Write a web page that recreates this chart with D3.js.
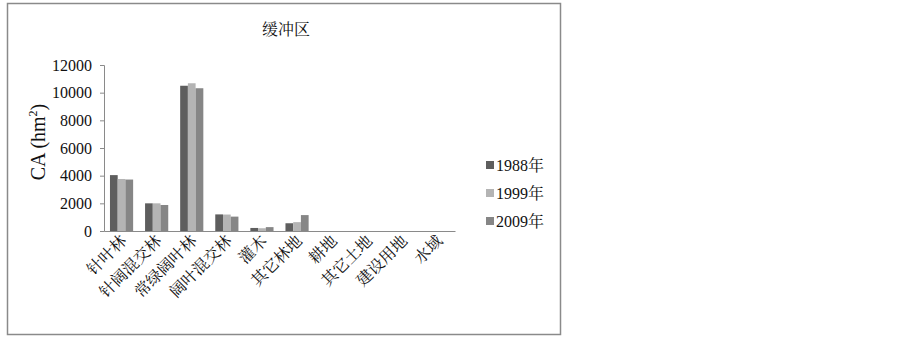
<!DOCTYPE html>
<html>
<head>
<meta charset="utf-8">
<script src="https://cdn.jsdelivr.net/npm/d3@7"></script>
<style>
  body { margin: 0; background: #fff; }
  text { font-family: "Liberation Serif", "Noto Serif CJK SC", "Noto Sans CJK SC", serif; fill: #111; }
</style>
</head>
<body>
<svg id="chart" width="903" height="339"></svg>
<script>
"use strict";

// data
const categories = ["针叶林", "针阔混交林", "常绿阔叶林", "阔叶混交林", "灌木", "其它林地", "耕地", "其它土地", "建设用地", "水域"];
const years = ["1988年", "1999年", "2009年"];
const ca1988 = [4040, 2000, 10500, 1200, 220, 560, 0, 0, 0, 0];
const ca1999 = [3760, 2000, 10680, 1190, 200, 640, 0, 0, 0, 0];
const ca2009 = [3720, 1880, 10320, 1040, 280, 1150, 0, 0, 0, 0];
const yTicks = [0, 2000, 4000, 6000, 8000, 10000, 12000];
const colors = ["#5e5e5e", "#b4b4b4", "#868686"];

const series = [ca1988, ca1999, ca2009];

const svg = d3.select("#chart");

// outer frame
svg.append("rect")
    .attr("x", 7.5).attr("y", 3.5)
    .attr("width", 553).attr("height", 331)
    .attr("fill", "none")
    .attr("stroke", "#8a8a8a")
    .attr("stroke-width", 1.5);

svg.append("text")
    .attr("x", 286).attr("y", 35)
    .attr("text-anchor", "middle")
    .style("font-size", "16px")
    .text("缓冲区");

const plotLeft = 104, plotRight = 455, plotTop = 65, plotBottom = 231;

var x = d3.scaleBand()
    .domain(categories)
    .range([plotLeft, plotRight])
    .paddingInner(0.34)
    .paddingOuter(0.17);

var xs = d3.scaleBand()
    .domain(d3.range(3))
    .range([0, x.bandwidth()]);

var y = d3.scaleLinear()
    .domain([0, 12000])
    .range([plotBottom, plotTop]);

// bars
const groups = svg.append("g")
    .selectAll("g")
    .data(categories)
    .join("g")
    .attr("transform", d => `translate(${x(d)},0)`);

groups.selectAll("rect")
    .data((d, i) => series.map((s, k) => ({ k: k, v: s[i] })))
    .join("rect")
    .attr("x", d => xs(d.k))
    .attr("y", d => y(d.v))
    .attr("width", xs.bandwidth())
    .attr("height", d => plotBottom - y(d.v))
    .attr("fill", d => colors[d.k]);

// y axis
var yAxis = svg.append("g")
    .attr("transform", `translate(${plotLeft},0)`)
    .call(d3.axisLeft(y).tickValues(yTicks).tickSize(4).tickPadding(8).tickFormat(d3.format("d")));
yAxis.selectAll("path, line").attr("stroke", "#8a8a8a");
yAxis.selectAll("text").style("font-size", "16px").attr("fill", "#111");

// x axis
var xAxis = svg.append("g")
    .attr("transform", `translate(0,${plotBottom})`)
    .call(d3.axisBottom(x).tickSize(0).tickSizeOuter(0).tickPadding(0));
xAxis.select("path").attr("stroke", "#8a8a8a").attr("stroke-width", 1.2);
xAxis.selectAll("text")
    .style("font-size", "16px")
    .attr("fill", "#111")
    .attr("text-anchor", "end")
    .attr("dy", 0)
    .attr("y", 0)
    .attr("transform", "translate(6,11) rotate(-45)");

// y axis title
svg.append("text")
    .attr("transform", "translate(45,142) rotate(-90)")
    .attr("text-anchor", "middle")
    .style("font-size", "20px")
    .html("CA (hm<tspan dy='-8' style='font-size:12px'>2</tspan><tspan dy='8'>)</tspan>");

// legend
var legend = svg.append("g")
    .selectAll("g")
    .data(years)
    .join("g")
    .attr("transform", (d, i) => `translate(486,${165 + i * 28})`);
legend.append("rect")
    .attr("x", 0).attr("y", -4)
    .attr("width", 8).attr("height", 8)
    .attr("fill", (d, i) => colors[i]);
legend.append("text")
    .attr("x", 10).attr("y", 6)
    .style("font-size", "16px")
    .text(d => d);
</script>
</body>
</html>
